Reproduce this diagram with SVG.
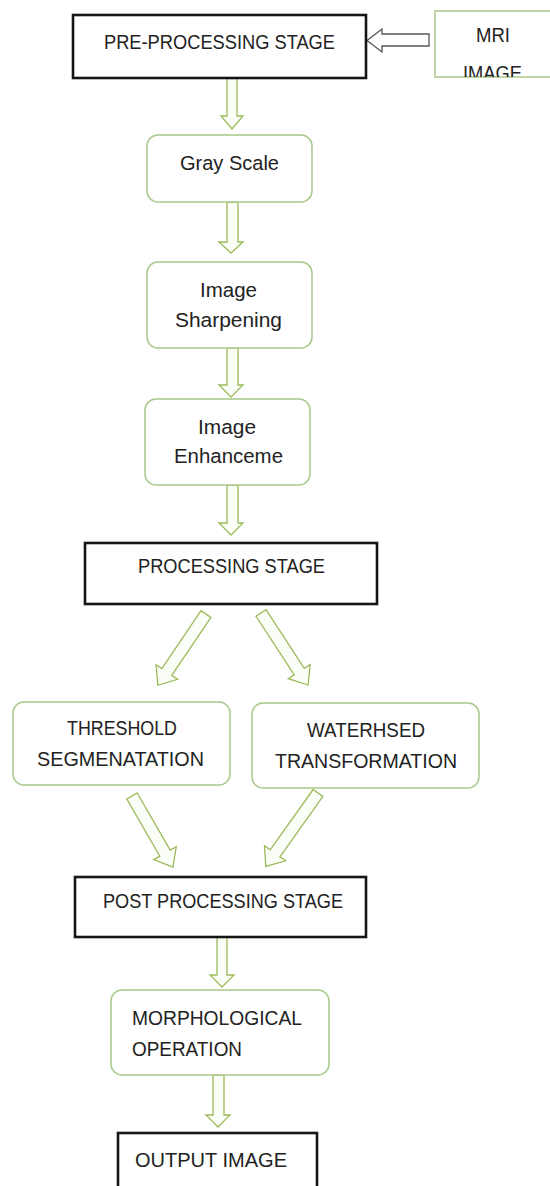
<svg xmlns="http://www.w3.org/2000/svg" width="550" height="1186" viewBox="0 0 550 1186">
<style>
text{font-family:"Liberation Sans",Arial,sans-serif;font-size:21px;fill:#222}
.mc{font-size:20.5px}
.stage{fill:#fff;stroke:#151515;stroke-width:2.6}
.step{fill:#fff;stroke:#a9c98b;stroke-width:1.5}
.arr{fill:#fbfdf7;stroke:#9bbb59;stroke-width:1.3;stroke-linejoin:miter}
.arrg{fill:#fff;stroke:#555;stroke-width:1.3}
</style>
<defs>
<clipPath id="mriclip"><rect x="435" y="11" width="116" height="66"/></clipPath>
</defs>
<rect width="550" height="1186" fill="#fff"/>

<g id="connectors">
<path class="arrg" d="M429,34 H382 V29 L367,40.5 L382,52 V46 H429 Z"/>
<path class="arr" d="M227,78 V116 H221 L232,129 L243,116 H237 V78 Z"/>
<path class="arr" d="M227,202 V242 H219 L231,253 L243,242 H238 V202 Z"/>
<path class="arr" d="M227,348 V385 H219 L231,397 L243,385 H238 V348 Z"/>
<path class="arr" d="M227,485 V523 H219 L231,535 L243,523 H238 V485 Z"/>
<path class="arr" transform="translate(206,614) rotate(124.05)" d="M0,-6 H70 V-13 L86,0 L70,13 V6 H0 Z"/>
<path class="arr" transform="translate(261,613) rotate(56.86)" d="M0,-6 H70 V-13 L86,0 L70,13 V6 H0 Z"/>
<path class="arr" transform="translate(132,796) rotate(60)" d="M0,-6 H66 V-13 L82,0 L66,13 V6 H0 Z"/>
<path class="arr" transform="translate(318,793) rotate(125.46)" d="M0,-6 H74 V-13 L90,0 L74,13 V6 H0 Z"/>
<path class="arr" d="M217,937 V975 H210 L222,987 L234,975 H227 V937 Z"/>
<path class="arr" d="M213,1075 V1115 H206 L218,1127 L230,1115 H224 V1075 Z"/>
</g>

<g id="mri">
<rect x="435" y="11" width="118" height="66" fill="#fff" stroke="#a9c98b" stroke-width="1.5"/>
<g clip-path="url(#mriclip)">
<text x="476" y="42" textLength="34" lengthAdjust="spacingAndGlyphs">MRI</text>
<text x="463" y="80" textLength="59" lengthAdjust="spacingAndGlyphs">IMAGE</text>
</g>
</g>

<g id="preprocessing">
<rect class="stage" x="73" y="15" width="293" height="63"/>
<text x="104" y="49" textLength="231" lengthAdjust="spacingAndGlyphs">PRE-PROCESSING STAGE</text>
</g>

<g id="grayscale">
<rect class="step" x="147" y="135" width="165" height="67" rx="11"/>
<text class="mc" x="180" y="170" textLength="99" lengthAdjust="spacingAndGlyphs">Gray Scale</text>
</g>

<g id="sharpening">
<rect class="step" x="147" y="262" width="165" height="86" rx="11"/>
<text class="mc" x="200" y="297" textLength="57" lengthAdjust="spacingAndGlyphs">Image</text>
<text class="mc" x="175" y="327" textLength="107" lengthAdjust="spacingAndGlyphs">Sharpening</text>
</g>

<g id="enhancement">
<rect class="step" x="145" y="399" width="165" height="86" rx="11"/>
<text class="mc" x="198" y="434" textLength="58" lengthAdjust="spacingAndGlyphs">Image</text>
<text class="mc" x="174" y="463" textLength="109" lengthAdjust="spacingAndGlyphs">Enhanceme</text>
</g>

<g id="processing">
<rect class="stage" x="85" y="543" width="292" height="61"/>
<text x="138" y="573" textLength="187" lengthAdjust="spacingAndGlyphs">PROCESSING STAGE</text>
</g>

<g id="threshold">
<rect class="step" x="13" y="702" width="217" height="83" rx="11"/>
<text x="67" y="735" textLength="110" lengthAdjust="spacingAndGlyphs">THRESHOLD</text>
<text x="37" y="766" textLength="167" lengthAdjust="spacingAndGlyphs">SEGMENATATION</text>
</g>

<g id="watershed">
<rect class="step" x="252" y="703" width="227" height="85" rx="11"/>
<text x="307" y="737" textLength="118" lengthAdjust="spacingAndGlyphs">WATERHSED</text>
<text x="275" y="768" textLength="182" lengthAdjust="spacingAndGlyphs">TRANSFORMATION</text>
</g>

<g id="postprocessing">
<rect class="stage" x="75" y="877" width="291" height="60"/>
<text x="103" y="908" textLength="240" lengthAdjust="spacingAndGlyphs">POST PROCESSING STAGE</text>
</g>

<g id="morphological">
<rect class="step" x="111" y="990" width="218" height="85" rx="11"/>
<text x="132" y="1025" textLength="170" lengthAdjust="spacingAndGlyphs">MORPHOLOGICAL</text>
<text x="132" y="1056" textLength="110" lengthAdjust="spacingAndGlyphs">OPERATION</text>
</g>

<g id="output">
<rect class="stage" x="118" y="1133" width="199" height="60"/>
<text x="135" y="1167" textLength="152" lengthAdjust="spacingAndGlyphs">OUTPUT IMAGE</text>
</g>
</svg>
